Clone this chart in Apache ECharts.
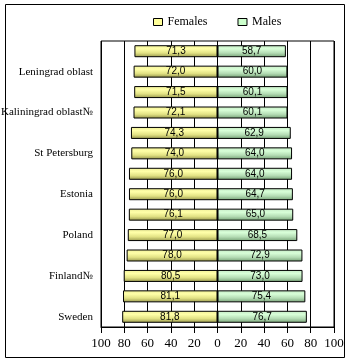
<!DOCTYPE html>
<html><head><meta charset="utf-8">
<script src="https://cdn.jsdelivr.net/npm/echarts@6/dist/echarts.min.js"></script>
<style>html,body{margin:0;padding:0;background:#fff}#c{width:350px;height:363px}</style>
</head><body><div id="c"></div>
<script>
var categories = ['', 'Leningrad oblast', '', 'Kaliningrad oblast№', '', 'St Petersburg', '', 'Estonia', '', 'Poland', '', 'Finland№', '', 'Sweden'];
var females = [71.3, 72.0, 71.5, 72.1, 74.3, 74.0, 76.0, 76.0, 76.1, 77.0, 78.0, 80.5, 81.1, 81.8];
var males = [58.7, 60.0, 60.1, 60.1, 62.9, 64.0, 64.0, 64.7, 65.0, 68.5, 72.9, 73.0, 75.4, 76.7];
var xTicks = [100, 80, 60, 40, 20, 0, 20, 40, 60, 80, 100];

var chart = echarts.init(document.getElementById('c'), null, {renderer: 'canvas'});
function grad(c0, c1, c2, c3) {
  return new echarts.graphic.LinearGradient(0, 0, 0, 1, [
    {offset: 0, color: c0}, {offset: 0.3, color: c1}, {offset: 0.65, color: c2}, {offset: 1, color: c3}
  ]);
}
var fmt = function (p) { return Math.abs(p.value).toFixed(1).replace('.', ','); };
var legendText = {fontFamily: 'Liberation Serif', fontSize: 12, color: '#000'};
chart.setOption({
  animation: false,
  textStyle: {fontFamily: 'Liberation Serif'},
  graphic: [{type: 'rect', shape: {x: 5.5, y: 4.5, width: 339, height: 353}, style: {fill: 'none', stroke: '#000', lineWidth: 1}}],
  legend: {
    left: 148, top: 11, itemWidth: 9, itemHeight: 7, itemGap: 30, icon: 'rect',
    textStyle: legendText,
    data: [
      {name: 'Females', icon: 'rect', textStyle: legendText, itemStyle: {color: '#ffff99', borderColor: '#000', borderWidth: 1}},
      {name: 'Males', icon: 'rect', textStyle: legendText, itemStyle: {color: '#ccffcc', borderColor: '#000', borderWidth: 1}}
    ]
  },
  grid: {left: 101, right: 16, top: 41, bottom: 36, show: true, borderColor: '#000', borderWidth: 1, containLabel: false, outerBoundsMode: 'none'},
  xAxis: {
    type: 'value', min: -100, max: 100, interval: 20,
    axisLine: {show: true, lineStyle: {color: '#000'}},
    axisTick: {show: true, inside: false, length: 6, lineStyle: {color: '#000'}},
    splitLine: {show: true, lineStyle: {color: '#000', width: 1}},
    axisLabel: {color: '#000', fontSize: 13, fontFamily: 'Liberation Serif', margin: 10,
      formatter: function (v) { return xTicks[Math.round((v + 100) / 20)]; }}
  },
  yAxis: {
    type: 'category', data: categories, inverse: true,
    axisLine: {show: false}, axisTick: {show: false},
    axisLabel: {color: '#000', fontSize: 11, fontFamily: 'Liberation Serif', margin: 8,
      interval: function (i) { return i % 2 === 1; }}
  },
  series: [
    {name: 'Females', type: 'bar', barWidth: 12, barGap: '-100%',
      data: females.map(function (v) { return -v; }),
      itemStyle: {color: grad('#eeee99', '#ffffa8', '#e2e284', '#94944a'), borderColor: '#000', borderWidth: 1},
      label: {show: true, position: 'inside', formatter: fmt, color: '#000', fontSize: 10, fontFamily: 'Liberation Sans'}
    },
    {name: 'Males', type: 'bar', barWidth: 12,
      data: males,
      itemStyle: {color: grad('#c4e8c4', '#d8ffd8', '#b4dcb4', '#74a074'), borderColor: '#000', borderWidth: 1},
      label: {show: true, position: 'inside', formatter: fmt, color: '#000', fontSize: 10, fontFamily: 'Liberation Sans'}
    }
  ]
});
</script></body></html>
